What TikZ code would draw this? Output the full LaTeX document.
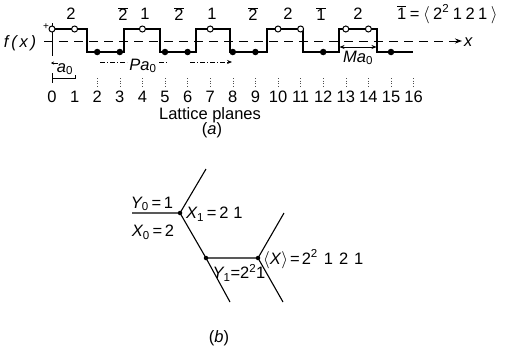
\documentclass[tikz,border=0pt]{standalone}
\usepackage{fontspec}
\setmainfont{Liberation Sans}
\usetikzlibrary{arrows.meta}
\newcommand\ob[1]{\ensuremath{\overline{\mbox{#1}}}}
\newcommand\gp{\hspace{3.5pt}}
\newcommand\sub[1]{\textsubscript{\upshape #1}}
\newcommand\sups[1]{\textsuperscript{#1}}
\begin{document}
\begin{tikzpicture}[x=1pt,y=-1pt,
  font=\fontsize{16.5}{19}\selectfont,
  inner sep=1pt,
  wave/.style={line width=1.4pt},
  hexline/.style={line width=1.1pt},
  opendot/.style={circle,draw,fill=white,inner sep=0pt,minimum size=6pt,line width=1pt},
  fulldot/.style={circle,fill,inner sep=0pt,minimum size=6.5pt},
  vtx/.style={circle,fill,inner sep=0pt,minimum size=4.5pt},
  dimline/.style={line width=0.7pt},
  dimdash/.style={line width=0.7pt,dash pattern=on 5pt off 2pt on 1pt off 2pt},
  ticks/.style={line width=0.6pt,dotted,black!70}]
\useasboundingbox (0,0) rectangle (510,351);

% ---------- part (a) ----------
\coordinate (ax0) at (44,41);
\coordinate (ax1) at (462,41);
\draw[line width=0.9pt,dash pattern=on 9pt off 6pt,-{Stealth[length=7pt,width=5pt]}] (ax0) -- (ax1);
\node[anchor=west] (xl) at (463,42) {\itshape x};
\coordinate (vt) at (52,23);
\coordinate (vb) at (52,56);
\draw[line width=1pt] (vt) -- (vb);
\node (fx) at (20,43) {\itshape f\,(\,x\,)};
\node[font=\fontsize{10}{11}\selectfont] (plus) at (46,27) {+};

\draw[wave] (52,29) -| (87,52) -| (124,29) -| (160,52) -| (196,29) -| (230,52)
  -| (267,29) -| (303,52) -| (339,29) -| (377,52) -- (413,52);

\foreach \i in {0,1,4,7,10,11,13,14}
  \node[opendot] (o\i) at ({52+22.6*\i},29) {};
\foreach \i in {2,3,5,6,8,9,12,15}
  \node[fulldot] (f\i) at ({52+22.6*\i},52) {};

\foreach \i in {0,...,16}
  \node (n\i) at ({52+22.6*\i},97) {\i};
\foreach \i in {2,...,16}
  \draw[ticks] ({52+22.6*\i},78) -- ({52+22.6*\i},87);

\foreach \x/\t/\nm in {71/2/t1,123/\ob{2}/t2,145/1/t3,179/\ob{2}/t4,212/1/t5,
                        253/\ob{2}/t6,288/2/t7,321/\ob{1}/t8,358/2/t9}
  \node (\nm) at (\x,14) {\t};
\node[anchor=west] (eq) at (396,14)
  {\ob{1}\gp=\gp$\langle$\gp2\sups{2}\gp1\gp2\gp1\gp$\rangle$};

% a0 dimension
\draw[dimline] (52,73) -- (52,83);
\draw[dimline] (52,78) -- (75,78) -- (75,75);
\draw[dimline,-{Stealth[length=3pt,width=3pt]}] (58,63) -- (51,63);
\node (a0) at (65,69) {\itshape a\sub{0}};

% Pa0 dimension
\draw[dimdash] (100,62) -- (127,62);
\draw[dimdash] (159,62) -- (167,62);
\draw[dimdash,-{Stealth[length=5pt,width=4pt]}] (190,62) -- (232,62);
\node (pa) at (143,66) {\itshape Pa\sub{0}};

% Ma0 dimension
\draw[dimline,{Stealth[length=5pt,width=4pt]}-{Stealth[length=5pt,width=4pt]}] (339.5,47) -- (376.5,47);
\node (ma) at (358,58) {\itshape Ma\sub{0}};

\node (lp) at (210,115) {Lattice planes};
\node (capa) at (212,130) {(\textit{a})};

% ---------- part (b) ----------
\node[vtx] (A) at (180,213) {};
\node[vtx] (B) at (206,258) {};
\node[vtx] (C) at (258,258) {};
\coordinate (L) at (132,213);
\coordinate (Au) at (206,169);
\coordinate (Cu) at (284,213);
\coordinate (Bd) at (230,302);
\coordinate (Cd) at (283,302);
\draw[hexline] (L) -- (A.center) -- (Au);
\draw[hexline] (A.center) -- (B.center) -- (C.center) -- (Cu);
\draw[hexline] (B.center) -- (Bd);
\draw[hexline] (C.center) -- (Cd);

\node (y0) at (152,204) {\itshape Y\sub{0}\upshape\,=\,1};
\node (x0) at (153,232) {\itshape X\sub{0}\upshape\,=\,2};
\node[anchor=west] (x1) at (185,214) {\itshape X\sub{1}\upshape\,=\,2\hspace{5pt}1};
\node[anchor=west] (xx) at (262,259)
  {$\langle$\textit{X}$\rangle$\hspace{2pt}=\hspace{2pt}2\sups{2}\hspace{6pt}1\hspace{6pt}2\hspace{6pt}1};
\node (y1) at (239,273) {\itshape Y\sub{1}\upshape=2\sups{2}1};
\node (capb) at (219,338) {(\textit{b})};
\end{tikzpicture}
\end{document}
